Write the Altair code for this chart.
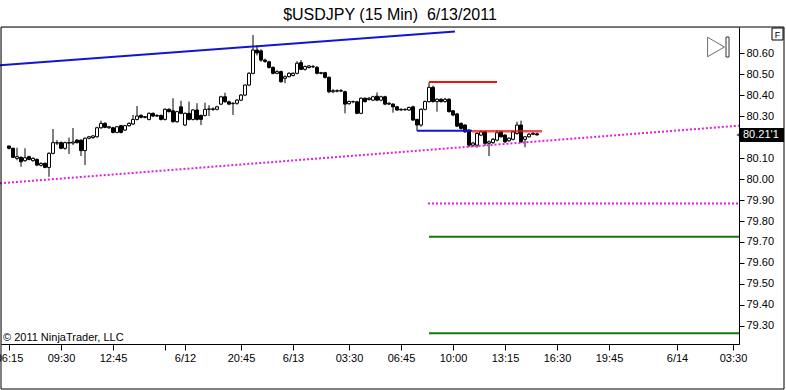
import altair as alt
import pandas as pd

# ---------------- data (15-minute bars, index 0 = 6/10 06:15) ----------------
opens = [
    80.158, 80.147, 80.099, 80.104, 80.088, 80.107, 80.088, 80.094, 80.066, 80.075,
    80.056, 80.123, 80.172, 80.174, 80.147, 80.174, 80.172, 80.186, 80.186, 80.136,
    80.195, 80.198, 80.202, 80.245, 80.266, 80.245, 80.245, 80.223, 80.255, 80.234,
    80.255, 80.263, 80.285, 80.304, 80.298, 80.285, 80.314, 80.301, 80.304, 80.285,
    80.333, 80.326, 80.274, 80.345, 80.258, 80.314, 80.285, 80.330, 80.304, 80.304,
    80.333, 80.335, 80.333, 80.358, 80.393, 80.369, 80.360, 80.362, 80.377, 80.401,
    80.449, 80.505, 80.616, 80.612, 80.568, 80.560, 80.533, 80.505, 80.513, 80.481,
    80.489, 80.495, 80.505, 80.556, 80.524, 80.533, 80.537, 80.533, 80.505, 80.508,
    80.486, 80.417, 80.422, 80.420, 80.417, 80.360, 80.370, 80.369, 80.314, 80.386,
    80.380, 80.377, 80.396, 80.377, 80.393, 80.358, 80.358, 80.345, 80.330, 80.333,
    80.330, 80.345, 80.285, 80.258, 80.333, 80.370, 80.438, 80.370, 80.381, 80.370,
    80.381, 80.326, 80.311, 80.266, 80.258, 80.234, 80.162, 80.162, 80.210, 80.226,
    80.171, 80.174, 80.186, 80.226, 80.210, 80.183, 80.190, 80.218, 80.258, 80.190,
    80.202, 80.214, 80.216,
]
closes = [
    80.147, 80.104, 80.107, 80.083, 80.102, 80.094, 80.099, 80.067, 80.075, 80.056,
    80.123, 80.174, 80.174, 80.147, 80.174, 80.172, 80.177, 80.174, 80.136, 80.195,
    80.202, 80.206, 80.245, 80.266, 80.247, 80.250, 80.223, 80.250, 80.223, 80.255,
    80.266, 80.285, 80.301, 80.295, 80.295, 80.314, 80.301, 80.304, 80.285, 80.333,
    80.322, 80.274, 80.322, 80.314, 80.314, 80.285, 80.330, 80.285, 80.285, 80.333,
    80.335, 80.333, 80.345, 80.393, 80.369, 80.358, 80.362, 80.377, 80.401, 80.449,
    80.505, 80.616, 80.602, 80.568, 80.562, 80.533, 80.505, 80.513, 80.465, 80.489,
    80.505, 80.505, 80.553, 80.524, 80.537, 80.540, 80.536, 80.505, 80.508, 80.486,
    80.417, 80.422, 80.420, 80.422, 80.358, 80.370, 80.369, 80.314, 80.386, 80.370,
    80.386, 80.393, 80.377, 80.393, 80.358, 80.362, 80.345, 80.330, 80.333, 80.331,
    80.342, 80.282, 80.258, 80.333, 80.370, 80.438, 80.370, 80.381, 80.370, 80.381,
    80.322, 80.306, 80.253, 80.242, 80.226, 80.162, 80.172, 80.218, 80.226, 80.171,
    80.178, 80.190, 80.221, 80.202, 80.178, 80.195, 80.226, 80.258, 80.178, 80.202,
    80.214, 80.218, 80.211,
]
highs = [
    80.160, 80.150, 80.150, 80.108, 80.147, 80.112, 80.104, 80.099, 80.080, 80.080,
    80.128, 80.239, 80.186, 80.180, 80.179, 80.198, 80.244, 80.191, 80.190, 80.199,
    80.206, 80.210, 80.250, 80.279, 80.272, 80.254, 80.250, 80.254, 80.259, 80.259,
    80.271, 80.306, 80.349, 80.310, 80.301, 80.318, 80.318, 80.310, 80.308, 80.338,
    80.338, 80.386, 80.326, 80.374, 80.318, 80.370, 80.334, 80.362, 80.308, 80.365,
    80.353, 80.342, 80.350, 80.398, 80.412, 80.374, 80.367, 80.382, 80.406, 80.453,
    80.510, 80.688, 80.640, 80.620, 80.575, 80.565, 80.538, 80.520, 80.518, 80.495,
    80.510, 80.510, 80.563, 80.568, 80.542, 80.545, 80.545, 80.540, 80.512, 80.512,
    80.490, 80.430, 80.428, 80.430, 80.422, 80.375, 80.375, 80.374, 80.390, 80.390,
    80.392, 80.398, 80.414, 80.398, 80.398, 80.367, 80.362, 80.350, 80.338, 80.338,
    80.346, 80.350, 80.288, 80.338, 80.375, 80.462, 80.446, 80.386, 80.386, 80.388,
    80.386, 80.330, 80.316, 80.270, 80.262, 80.238, 80.178, 80.224, 80.232, 80.230,
    80.185, 80.196, 80.234, 80.230, 80.215, 80.200, 80.230, 80.274, 80.279, 80.206,
    80.220, 80.224, 80.222,
]
lows = [
    80.142, 80.100, 80.090, 80.059, 80.083, 80.090, 80.083, 80.062, 80.060, 80.052,
    80.011, 80.118, 80.162, 80.143, 80.140, 80.120, 80.163, 80.170, 80.110, 80.067,
    80.190, 80.193, 80.198, 80.240, 80.243, 80.240, 80.218, 80.219, 80.218, 80.229,
    80.250, 80.258, 80.280, 80.290, 80.290, 80.280, 80.296, 80.296, 80.280, 80.280,
    80.318, 80.270, 80.269, 80.310, 80.253, 80.280, 80.280, 80.280, 80.258, 80.299,
    80.301, 80.326, 80.328, 80.353, 80.365, 80.353, 80.306, 80.355, 80.372, 80.396,
    80.444, 80.500, 80.590, 80.560, 80.555, 80.528, 80.500, 80.500, 80.460, 80.458,
    80.485, 80.490, 80.500, 80.520, 80.518, 80.528, 80.530, 80.500, 80.500, 80.480,
    80.410, 80.410, 80.414, 80.415, 80.314, 80.355, 80.362, 80.310, 80.310, 80.365,
    80.375, 80.372, 80.372, 80.372, 80.353, 80.353, 80.317, 80.325, 80.326, 80.326,
    80.325, 80.277, 80.230, 80.250, 80.328, 80.365, 80.365, 80.322, 80.365, 80.365,
    80.318, 80.300, 80.248, 80.236, 80.220, 80.152, 80.152, 80.150, 80.205, 80.158,
    80.110, 80.168, 80.180, 80.198, 80.172, 80.178, 80.185, 80.212, 80.172, 80.152,
    80.198, 80.210, 80.208,
]

tick_bars = [0, 13, 26, 39, 44, 58, 71, 85, 98, 111, 124, 137, 150, 167, 181]
tick_labels = ["06:15", "09:30", "12:45", "", "6/12", "20:45", "6/13", "03:30",
               "06:45", "10:00", "13:15", "16:30", "19:45", "6/14", "03:30"]
price_ticks = [79.30, 79.40, 79.50, 79.60, 79.70, 79.80, 79.90, 80.00, 80.10,
               80.30, 80.40, 80.50, 80.60]

# drawing objects: (start bar, start price, end bar, end price)
blue_trend = [-2.25, 80.543, 111.5, 80.704]
magenta_trend = [-2.25, 79.980, 182.5, 80.255]
magenta_level = [104.75, 79.884, 182.5, 79.884]
green_levels = [[105.0, 79.725, 182.5, 79.725], [105.0, 79.264, 182.5, 79.264]]
red_top = [105.0, 80.463, 122.0, 80.463]
blue_short = [102.0, 80.231, 115.75, 80.231]
red_short = [115.75, 80.229, 133.25, 80.229]
last_price_text = "80.21'1"
title_text = "$USDJPY (15 Min)\u00a0 6/13/2011"
copyright_text = "\u00a9 2011 NinjaTrader, LLC"

n = min(len(opens), len(closes), len(highs), len(lows))
df = pd.DataFrame({
    "bar": list(range(n)),
    "open": opens[:n], "high": highs[:n], "low": lows[:n], "close": closes[:n],
})

def seg_df(rows):
    return pd.DataFrame(rows, columns=["x1", "y1", "x2", "y2"])

FONT = "Liberation Sans"
xs = alt.Scale(domain=[-2, 182.5], nice=False, zero=False)
ys = alt.Scale(domain=[79.213, 80.726], nice=False, zero=False)

bars_js = "[" + ",".join(str(b) for b in tick_bars) + "]"
labels_js = "[" + ",".join("'" + l + "'" for l in tick_labels) + "]"
label_expr = f"{labels_js}[indexof({bars_js}, datum.value)]"

x_axis = alt.Axis(values=tick_bars, labelExpr=label_expr, orient="bottom", title=None,
                  grid=False, tickSize=6, labelPadding=2, labelFontSize=11,
                  labelFont=FONT, labelColor="black", domainColor="black",
                  tickColor="black", labelOverlap=False, labelFlush=False)
y_axis = alt.Axis(values=price_ticks, format=".2f", orient="right", title=None,
                  grid=False, tickSize=5, labelPadding=2, labelFontSize=11,
                  labelFont=FONT, labelColor="black", domainColor="black",
                  tickColor="black", labelOverlap=False, labelFlush=False)

def X(field):
    return alt.X(field, type="quantitative", scale=xs, axis=x_axis)

def Y(field):
    return alt.Y(field, type="quantitative", scale=ys, axis=y_axis)

base = alt.Chart(df)

wicks = base.mark_rule(color="black", strokeWidth=1).encode(
    x=X("bar"), y=Y("low"), y2="high",
)

bodies = base.transform_calculate(
    xl="datum.bar - 0.375", xr="datum.bar + 0.375"
).mark_rect(stroke="black", strokeWidth=1).encode(
    x=X("xl"), x2="xr", y=Y("open"), y2="close",
    fill=alt.condition("datum.close >= datum.open", alt.value("white"), alt.value("black")),
)

def seg_layer(rows, color, width, dash=None, opacity=1.0):
    kw = dict(color=color, strokeWidth=width, opacity=opacity, strokeCap="butt")
    if dash:
        kw["strokeDash"] = dash
    return alt.Chart(seg_df(rows)).mark_rule(**kw).encode(
        x=X("x1"), x2="x2", y=Y("y1"), y2="y2",
    )

l_magenta = seg_layer([magenta_trend, magenta_level], "#e020e0", 2, dash=[2, 2])
l_green = seg_layer(green_levels, "#137a13", 2)
l_blue = seg_layer([blue_trend, blue_short], "#1414d2", 2)
l_red_top = seg_layer([red_top], "#e81414", 2)
l_red_short = seg_layer([red_short], "#e81414", 2.5, opacity=0.75)

one = pd.DataFrame({"k": [0]})

frame = alt.Chart(one).mark_rect(filled=False, stroke="black", strokeWidth=1).encode(
    x=alt.value(0), x2=alt.value(783), y=alt.value(0), y2=alt.value(362))

title_mark = alt.Chart(one).mark_text(
    text=title_text, align="center", baseline="alphabetic",
    font=FONT, fontSize=16, color="black").encode(x=alt.value(389), y=alt.value(-7))

copyright_txt = alt.Chart(one).mark_text(
    text=copyright_text, align="left", baseline="alphabetic",
    font=FONT, fontSize=11, color="black").encode(x=alt.value(2), y=alt.value(314))

last_df = pd.DataFrame({"price": [closes[n - 1]], "label": [last_price_text]})
tag_rect = alt.Chart(last_df).mark_rect(color="black", width=44, height=14).encode(
    x=alt.value(761), y=Y("price"))
tag_arrow = alt.Chart(last_df).mark_point(shape="triangle-left", filled=True, color="black",
                                          size=40).encode(
    x=alt.value(738), y=Y("price"))
tag_text = alt.Chart(last_df).mark_text(align="left", baseline="middle", font=FONT,
                                        fontSize=11, color="white").encode(
    x=alt.value(742), y=Y("price"), text="label:N")

play_tri = alt.Chart(one).mark_point(shape="triangle-right", filled=False, color="#333333",
                                     strokeWidth=1, size=380).encode(
    x=alt.value(715), y=alt.value(20))
play_bar = alt.Chart(one).mark_rect(filled=False, stroke="#333333", strokeWidth=1).encode(
    x=alt.value(725), x2=alt.value(728), y=alt.value(10), y2=alt.value(30))
f_box = alt.Chart(one).mark_rect(filled=False, stroke="black", strokeWidth=1).encode(
    x=alt.value(771), x2=alt.value(782), y=alt.value(1), y2=alt.value(13))
f_text = alt.Chart(one).mark_text(text="F", font=FONT, fontSize=9, color="black",
                                  align="center", baseline="middle").encode(
    x=alt.value(776.5), y=alt.value(7.5))

chart = alt.layer(
    wicks, bodies, l_magenta, l_green, l_blue, l_red_top, l_red_short,
    frame, title_mark, copyright_txt, tag_rect, tag_arrow, tag_text,
    play_tri, play_bar, f_box, f_text,
).properties(
    width=738, height=317,
    autosize=alt.AutoSizeParams(type="none"),
    padding={"left": 1, "top": 27, "right": 47, "bottom": 46},
).configure_view(stroke="black", strokeWidth=1).configure(background="white")

chart.save("out.html", embed_options={"renderer": "svg", "actions": False})
